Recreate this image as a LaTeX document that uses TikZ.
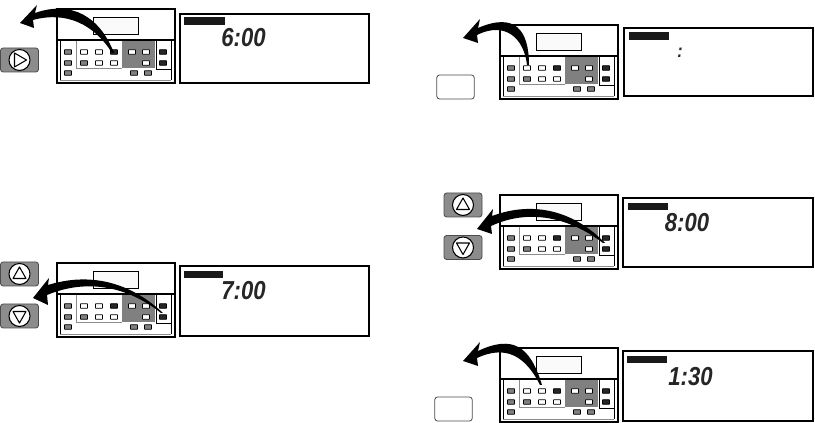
\documentclass[tikz,border=0pt]{standalone}
\usepackage{fontspec}
\setmainfont{Liberation Sans}
\usetikzlibrary{calc}
\tikzset{
  frameline/.style={draw=black,line width=1.1pt},
  thinline/.style={draw=black,line width=0.65pt},
  lightline/.style={draw=black!45,line width=0.6pt},
  key/.style={draw=black,line width=0.55pt,rounded corners=0.3pt},
  keywhite/.style={key,fill=white},
  keygray/.style={key,fill=black!50},
  keyblack/.style={key,fill=black!85},
  darkzone/.style={fill=black!50},
  dispbox/.style={draw=black,line width=1.3pt,fill=white},
  tab/.style={fill=black!90},
  digits/.style={font=\bfseries\itshape\fontsize{19.5}{19.5}\selectfont,inner sep=0pt,text=black!85,xscale=0.85},
  greybtn/.style={draw=black!70,line width=0.6pt,fill=black!45,rounded corners=2pt},
  blankbtn/.style={draw=black!70,line width=0.6pt,fill=white,rounded corners=2pt},
  btnring/.style={draw=black,line width=0.8pt,fill=white},
  tri/.style={draw=black,line width=0.8pt,fill=white,line join=round},
  curvearrow/.style={fill=black},
}
\newcommand{\kk}[3]{\path[#3] (#1-3.5,#2-2.3) rectangle (#1+3.5,#2+2.3);}
\newcommand{\panelbox}[2]{%
\begin{scope}[shift={(#1,#2)}]
  \path[fill=white] (0,0) rectangle (118,74);
  \path[darkzone] (65,32) rectangle (98,59);
  \path[frameline] (0,0) rectangle (118,74);
  \path[frameline] (0,31) -- (118,31);
  \path[thinline,fill=black!2] (36,8) rectangle (81,25);
  \path[thinline] (3,32) -- (3,71);
  \path[thinline] (114,32) -- (114,71);
  \path[lightline] (3,71) -- (114,71);
  \path[lightline] (19,32) -- (19,59) -- (65,59);
  \path[thinline] (99,32) -- (99,60) -- (114,60);
  \kk{11}{43}{keygray}\kk{27}{43}{keywhite}\kk{42}{43}{keywhite}\kk{57}{43}{keyblack}
  \kk{75}{43}{keywhite}\kk{89}{43}{keywhite}\kk{106}{43}{keyblack}
  \kk{11}{54}{keygray}\kk{27}{54}{keygray}\kk{42}{54}{keywhite}\kk{57}{54}{keywhite}
  \kk{89}{54}{keywhite}\kk{106}{54}{keyblack}
  \kk{11}{64}{keygray}\kk{77}{64}{keygray}\kk{91}{64}{keygray}
\end{scope}}
\newcommand{\upbtn}[3]{%
  \node[greybtn,minimum width=28.5pt,minimum height=18pt,inner sep=0pt] (#3) at (#1,#2) {};
  \path[btnring] (#3.center) circle [radius=10.5];
  \path[tri] ($(#3.center)+(0,-7)$) -- ($(#3.center)+(6.5,4.5)$) -- ($(#3.center)+(-6.5,4.5)$) -- cycle;}
\newcommand{\downbtn}[3]{%
  \node[greybtn,minimum width=28.5pt,minimum height=18pt,inner sep=0pt] (#3) at (#1,#2) {};
  \path[btnring] (#3.center) circle [radius=10.5];
  \path[tri] ($(#3.center)+(0,7)$) -- ($(#3.center)+(6.5,-4.5)$) -- ($(#3.center)+(-6.5,-4.5)$) -- cycle;}
\begin{document}
\begin{tikzpicture}[x=0.75pt,y=-0.75pt]
\useasboundingbox (0,0) rectangle (815,423);
% ---- panel 1
\panelbox{57}{9}
\path[dispbox] (180,14) rectangle (369,83);
\path[tab] (184,17) rectangle (225,25);
\node[digits] (t1) at (243.5,37.5) {6:00};
\node[greybtn,minimum width=28.5pt,minimum height=18pt,inner sep=0pt] (b1) at (19.5,60) {};
\path[btnring] (b1.center) circle [radius=10.5];
\path[tri] ($(b1.center)+(-5,-7)$) -- ($(b1.center)+(7,0)$) -- ($(b1.center)+(-5,7)$) -- cycle;
\path[curvearrow] (114,53) .. controls (100,17) and (72,0) .. (35,13) -- (37,5) -- (20,23) -- (34,28) -- (33,20)
  .. controls (66,11) and (94,24) .. (112,53) -- cycle;
% ---- panel 2
\panelbox{57}{263}
\path[dispbox] (180,266) rectangle (369,336);
\path[tab] (184,271) rectangle (223,278);
\node[digits] (t2) at (243.5,291) {7:00};
\upbtn{19.5}{274}{b2u}
\downbtn{19.5}{316}{b2d}
\path[curvearrow] (163,313) .. controls (130,282) and (90,272) .. (48,285) -- (49,278) -- (33,298) -- (48,305) -- (47,295)
  .. controls (88,278) and (128,287) .. (161,313) -- cycle;
% ---- panel 3
\panelbox{500}{25}
\path[dispbox] (624,28) rectangle (813,96);
\path[tab] (629,32) rectangle (669,40);
\node[digits,font=\bfseries\itshape\fontsize{14}{14}\selectfont] (t3) at (680,53) {:};
\node[blankbtn,minimum width=28pt,minimum height=18pt,inner sep=0pt] (b3) at (455.5,87) {};
\path[curvearrow] (529,65) .. controls (529,30) and (515,12) .. (478,28) -- (480,19) -- (463,38) -- (478,43) -- (477,35)
  .. controls (505,21) and (524,38) .. (527,65) -- cycle;
% ---- panel 4
\panelbox{500}{195}
\path[dispbox] (623,198) rectangle (813,267);
\path[tab] (628,203) rectangle (668,210);
\node[digits] (t4) at (687,223) {8:00};
\upbtn{463}{205}{b4u}
\downbtn{463}{247.5}{b4d}
\path[curvearrow] (605,243) .. controls (575,212) and (535,200) .. (492,216) -- (493,209) -- (477,229) -- (492,234) -- (491,226)
  .. controls (530,208) and (570,218) .. (603,243) -- cycle;
% ---- panel 5
\panelbox{500}{348}
\path[dispbox] (623,351) rectangle (813,421);
\path[tab] (627,356) rectangle (667,363);
\node[digits] (t5) at (690.5,377) {1:30};
\node[blankbtn,minimum width=28pt,minimum height=18pt,inner sep=0pt] (b5) at (453.5,409) {};
\path[curvearrow] (542,385) .. controls (530,345) and (512,335) .. (478,351) -- (480,342) -- (463,361) -- (478,366) -- (477,358)
  .. controls (505,345) and (525,355) .. (540,385) -- cycle;
\end{tikzpicture}
\end{document}
